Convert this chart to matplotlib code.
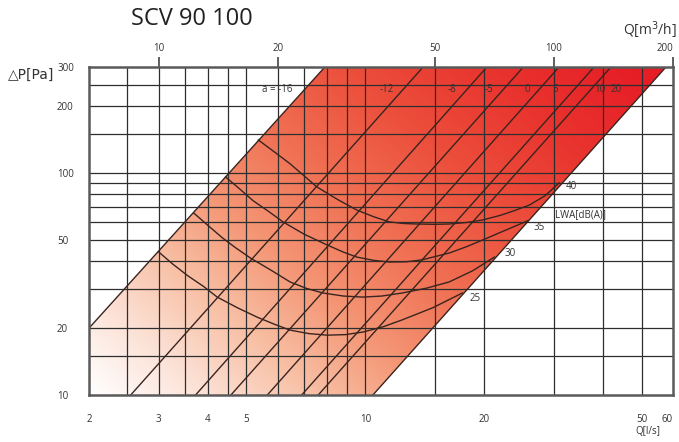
import matplotlib.pyplot as plt
import numpy as np
from matplotlib.colors import LinearSegmentedColormap
from matplotlib.ticker import NullLocator

plt.rcParams['font.family'] = ['Open Sans', 'DejaVu Sans']

# axes: flow Q in l/s (bottom), pressure drop dP in Pa
flow_ticks = [2, 3, 4, 5, 10, 20, 50, 60]
flow_m3h_ticks = [10, 20, 50, 100, 200]
dp_ticks = [10, 20, 50, 100, 200, 300]
flow_grid = [2.5, 3, 3.5, 4, 4.5, 5, 6, 7, 8, 9, 10, 15, 20, 30, 40, 50]
dp_grid = [15, 20, 30, 40, 50, 60, 70, 80, 90, 100, 150, 200, 250]
M3H_PER_LS = 10 / 3  # top scale as drawn on the sheet

# damper setting lines (a), two read points each
damper_a = ['a = -16', '-12', '-8', '-5', '0', '5', '10', '20']
damper_q0 = [2.0, 2.55, 3.72, 4.57, 5.65, 6.9, 7.6, 10.45]
damper_dp0 = [20, 10, 10, 10, 10, 10, 10, 10]
damper_q1 = [7.9, 14.0, 20.3, 25.1, 30.9, 37.9, 41.8, 57.6]
damper_dp1 = [300, 300, 300, 300, 300, 300, 300, 300]

# sound power level curves LWA [dB(A)]
lwa_levels = ['40', '35', '30', '25']
lwa40_q = [5.36, 5.9, 6.45, 7.0, 7.54, 8.5, 9.51, 10.5, 11.5, 12.5, 13.5, 15.0,
           16.3, 18.0, 19.8, 22.0, 24.0, 26.0, 28.5, 30.9]
lwa40_dp = [140.8, 124, 110, 97, 86.5, 76, 68.1, 63.5, 60.2, 59.2, 58.9, 58.7,
            58.9, 59.8, 61.4, 64.5, 68, 71.7, 79, 90.2]
lwa35_q = [4.43, 4.8, 5.2, 5.7, 6.19, 7.0, 8.0, 8.8, 9.51, 10.5, 11.5, 12.7,
           13.9, 15.0, 16.3, 18.0, 19.8, 22.5, 25.8]
lwa35_dp = [95.9, 85, 75, 67, 60.2, 53, 47.4, 44, 41.8, 40.4, 39.7, 39.8,
            40.6, 42, 43.6, 46.5, 49.9, 55, 61.0]
lwa30_q = [3.68, 4.0, 4.35, 4.7, 5.12, 5.8, 6.45, 7.1, 7.81, 8.8, 9.85, 11.0,
           12.4, 14.3, 16.3, 18.7, 21.2]
lwa30_dp = [66.0, 58, 51, 46, 41.4, 36.3, 32.3, 30.2, 28.8, 27.9, 27.6, 27.9,
            28.8, 30.3, 32.3, 36.3, 41.8]
lwa25_q = [3.0, 3.25, 3.55, 3.9, 4.22, 4.75, 5.33, 5.9, 6.45, 7.2, 8.0, 8.9,
           9.85, 11.1, 12.4, 14.8, 17.6]
lwa25_dp = [44.1, 39, 34.5, 30.8, 27.6, 24.7, 22.4, 20.8, 19.6, 18.9, 18.6, 18.7,
            19.2, 20.3, 21.8, 24.7, 28.8]

lwa_q = [lwa40_q, lwa35_q, lwa30_q, lwa25_q]
lwa_dp = [lwa40_dp, lwa35_dp, lwa30_dp, lwa25_dp]

fig = plt.figure(figsize=(6.79, 4.42), dpi=100)
ax = fig.add_axes([89 / 679, 1 - 395 / 442, 584 / 679, 328 / 442])
ax.set_xscale('log')
ax.set_yscale('log')

# working area between the two outer damper lines, with gradient fill
band = [(damper_q0[0], damper_dp0[0]), (damper_q1[0], damper_dp1[0]),
        (damper_q1[-1], damper_dp1[-1]), (damper_q0[-1], damper_dp0[-1]),
        (damper_q0[0], 10)]
poly = ax.fill([p[0] for p in band], [p[1] for p in band],
               facecolor='none', edgecolor='none')[0]
cmap = LinearSegmentedColormap.from_list('band', [
    (0.0, '#ffffff'), (0.12, '#fce3d8'), (0.25, '#f8bfa4'), (0.38, '#f49574'),
    (0.52, '#f07154'), (0.68, '#ec4f3c'), (0.84, '#e9332e'), (1.0, '#e61d26')])
u, v = np.meshgrid(np.linspace(0, 1, 300), np.linspace(0, 1, 300))
im = ax.imshow(np.clip(0.64 * u + 0.40 * v, 0, 1), extent=[0, 1, 0, 1],
               transform=ax.transAxes, origin='lower', aspect='auto',
               cmap=cmap, vmin=0, vmax=1, zorder=0)
im.set_clip_path(poly)

for q in flow_grid:
    ax.axvline(q, color='#2e2e2e', lw=0.9, zorder=1)
for p in dp_grid:
    ax.axhline(p, color='#2e2e2e', lw=0.9, zorder=1)

line_col = '#3a2420'
for i in range(len(damper_a)):
    ax.plot([damper_q0[i], damper_q1[i]], [damper_dp0[i], damper_dp1[i]],
            color=line_col, lw=1.0, zorder=2)
for i in range(len(lwa_levels)):
    ax.plot(lwa_q[i], lwa_dp[i], color=line_col, lw=1.0, zorder=2)

# labels
damper_label_q = [6.0, 11.3, 16.6, 20.6, 25.7, 30.2, 39.2, 43.0]
for lab, q in zip(damper_a, damper_label_q):
    ax.text(q, 238, lab, ha='center', va='center', fontsize=7, color='#333333', zorder=3)
lwa_offsets = [(7, -4), (5, -7), (10, 4), (7, -6)]
for i, lab in enumerate(lwa_levels):
    ax.annotate(lab, (lwa_q[i][-1], lwa_dp[i][-1]), xytext=lwa_offsets[i],
                textcoords='offset pixels', ha='left', va='center',
                fontsize=7, color='#333333', zorder=3)
ax.text(30.2, 64.8, 'LWA[dB(A)]', ha='left', va='center', fontsize=7, color='#333333')

ax.set_xlim(2, 60)
ax.set_ylim(10, 300)
ax.xaxis.set_minor_locator(NullLocator())
ax.yaxis.set_minor_locator(NullLocator())
ax.set_xticks(flow_ticks, labels=[str(t) for t in flow_ticks])
ax.set_yticks(dp_ticks, labels=[str(t) for t in dp_ticks])
ax.tick_params(axis='x', length=0, pad=14, labelsize=7, labelcolor='#333333')
ax.tick_params(axis='y', length=0, pad=23, labelsize=7, labelcolor='#333333')
for lab in ax.get_yticklabels():
    lab.set_horizontalalignment('left')
ax.get_xticklabels()[-1].set_horizontalalignment('right')
for s in ax.spines.values():
    s.set_color('#5a5a5a')
    s.set_linewidth(1.8)
    s.set_zorder(4)

sec = ax.secondary_xaxis('top', functions=(lambda q: q * M3H_PER_LS,
                                           lambda m: m / M3H_PER_LS))
sec.set_xticks(flow_m3h_ticks, labels=[str(t) for t in flow_m3h_ticks])
sec.xaxis.set_minor_locator(NullLocator())
sec.tick_params(direction='out', length=7, width=1.2, color='#444444',
                labelsize=7, labelcolor='#333333', pad=2)
sec.get_xticklabels()[-1].set_horizontalalignment('right')
sec.spines['top'].set_visible(False)

fig.text(192 / 679, 1 - 19 / 442, 'SCV 90 100', ha='center', va='center',
         fontsize=17, color='#222222')
fig.text(31 / 679, 1 - 75 / 442, '\u25b3P[Pa]', ha='center', va='center',
         fontsize=10, color='#333333', family=['DejaVu Sans'])
fig.text(650 / 679, 1 - 30 / 442, 'Q[m$^3$/h]', ha='center', va='center',
         fontsize=10, color='#333333')
fig.text(648 / 679, 1 - 432 / 442, 'Q[l/s]', ha='center', va='center',
         fontsize=7, color='#333333')

fig.savefig('out.png', dpi=100)
